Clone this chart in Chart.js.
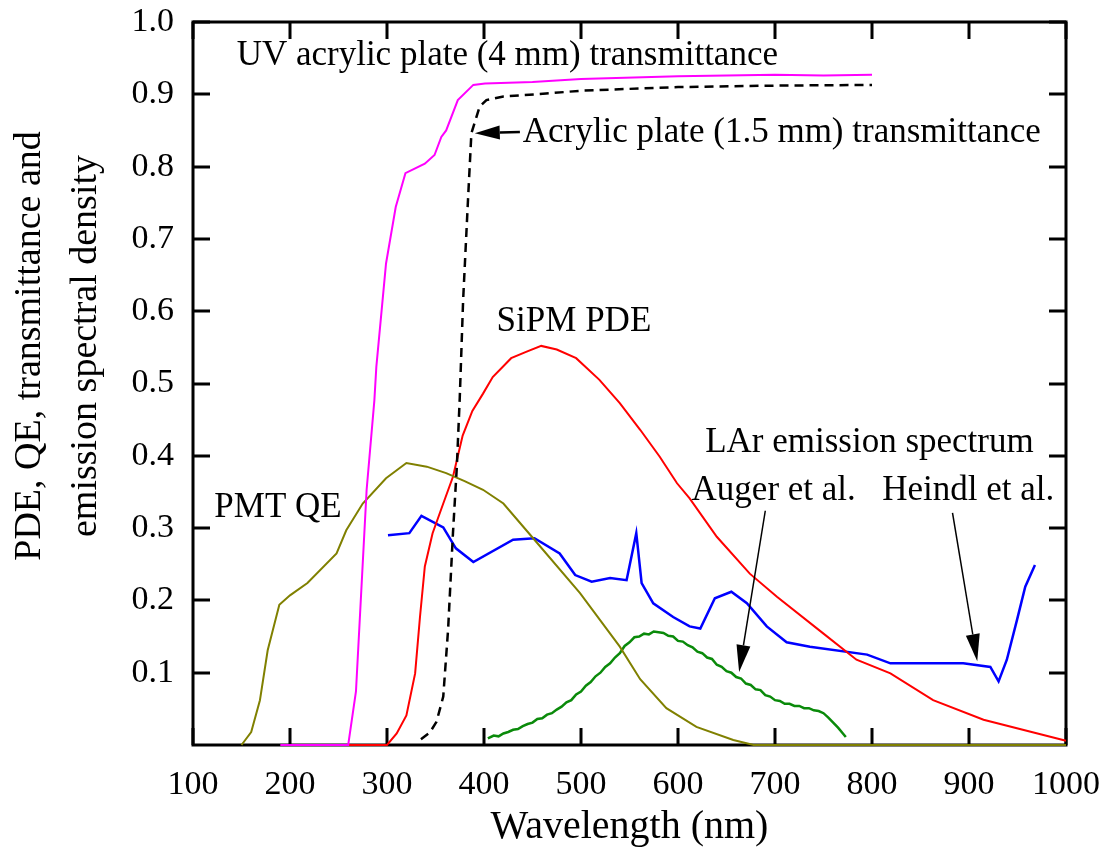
<!DOCTYPE html>
<html>
<head>
<meta charset="utf-8">
<script src="https://cdn.jsdelivr.net/npm/chart.js@4.4.1/dist/chart.umd.min.js"></script>
<style>
  html, body { margin: 0; padding: 0; background: #fff; }
  #wrap { width: 1109px; height: 851px; }
</style>
</head>
<body>
<div id="wrap"><canvas id="c" width="1109" height="851"></canvas></div>
<script>
// wavelength (nm) / value pairs
var uvAcrylicX = [190, 260, 268, 279, 287, 289, 299, 309, 319, 339, 349, 356, 361, 373, 389, 401, 450, 500, 600, 700, 750, 800];
var uvAcrylicY = [0, 0, 0.074, 0.353, 0.477, 0.523, 0.666, 0.744, 0.791, 0.804, 0.816, 0.841, 0.850, 0.892, 0.913, 0.915, 0.917, 0.921, 0.925, 0.927, 0.926, 0.927];

var acrylicX = [335, 344, 351, 358, 363, 368, 372, 375, 378.5, 383.5, 387, 395.5, 402.5, 420, 464, 500, 600, 700, 800];
var acrylicY = [0.008, 0.017, 0.032, 0.067, 0.16, 0.293, 0.385, 0.48, 0.616, 0.754, 0.846, 0.883, 0.892, 0.897, 0.901, 0.905, 0.910, 0.912, 0.913];

var sipmX = [260, 300, 310, 320, 329, 334, 339, 347, 358, 368, 378, 388, 399, 409, 428, 444, 459, 475, 495, 519, 540, 561, 581, 599, 612, 640, 674, 702, 750, 784, 819, 863, 915, 1000];
var sipmY = [0, 0, 0.016, 0.041, 0.099, 0.177, 0.247, 0.293, 0.334, 0.371, 0.428, 0.462, 0.486, 0.509, 0.535, 0.544, 0.552, 0.547, 0.535, 0.505, 0.473, 0.436, 0.399, 0.362, 0.341, 0.288, 0.237, 0.205, 0.154, 0.118, 0.099, 0.062, 0.035, 0.006];

var pmtX = [150, 160, 169, 177, 189, 200, 218, 248, 258, 275, 299, 320, 341, 361, 380, 399, 420, 450, 499, 540, 561, 588, 619, 657, 678, 1000];
var pmtY = [0, 0.018, 0.062, 0.131, 0.194, 0.207, 0.224, 0.265, 0.297, 0.334, 0.369, 0.390, 0.385, 0.376, 0.365, 0.353, 0.334, 0.287, 0.210, 0.136, 0.091, 0.051, 0.025, 0.007, 0, 0];

var heindlX = [301, 323, 335.5, 358, 371, 389, 430, 452, 478, 494, 511, 530, 547, 557, 562.5, 574.5, 595, 612, 623, 638, 655, 671, 691.5, 712, 736, 795, 819, 894, 922, 930.5, 939, 949.5, 958, 968];
var heindlY = [0.290, 0.293, 0.317, 0.301, 0.272, 0.253, 0.284, 0.286, 0.265, 0.235, 0.226, 0.231, 0.228, 0.293, 0.224, 0.196, 0.177, 0.164, 0.161, 0.203, 0.212, 0.196, 0.164, 0.142, 0.136, 0.125, 0.113, 0.113, 0.108, 0.088, 0.118, 0.173, 0.219, 0.249];

var augerX = [404, 410, 415, 420, 425, 430, 435, 440, 445, 450, 455, 460, 465, 470, 475, 480, 485, 490, 495, 500, 505, 510, 515, 520, 525, 530, 535, 540, 545, 550, 555, 560, 565, 570, 575, 580, 585, 590, 595, 600, 605, 610, 615, 620, 625, 630, 635, 640, 645, 650, 655, 660, 665, 670, 675, 680, 685, 690, 695, 700, 705, 710, 715, 720, 725, 730, 735, 740, 745, 750, 755, 760, 765, 770, 773];
var augerY = [0.009, 0.013, 0.012, 0.016, 0.018, 0.021, 0.022, 0.026, 0.029, 0.031, 0.036, 0.037, 0.042, 0.044, 0.049, 0.053, 0.059, 0.062, 0.070, 0.074, 0.082, 0.087, 0.095, 0.100, 0.108, 0.113, 0.121, 0.127, 0.137, 0.142, 0.149, 0.150, 0.154, 0.153, 0.157, 0.156, 0.155, 0.151, 0.150, 0.144, 0.143, 0.138, 0.135, 0.129, 0.127, 0.121, 0.119, 0.111, 0.108, 0.102, 0.100, 0.094, 0.092, 0.085, 0.083, 0.077, 0.076, 0.069, 0.067, 0.062, 0.061, 0.057, 0.057, 0.054, 0.054, 0.051, 0.051, 0.048, 0.047, 0.044, 0.038, 0.031, 0.024, 0.016, 0.011];

var xTicks = [100, 200, 300, 400, 500, 600, 700, 800, 900, 1000];
var yTicks = [0.1, 0.2, 0.3, 0.4, 0.5, 0.6, 0.7, 0.8, 0.9, 1.0];

// annotation text: [text, wavelength, value] (left edge, baseline)
var labels = [
  ['UV acrylic plate (4 mm) transmittance', 145, 0.940],
  ['Acrylic plate (1.5 mm) transmittance', 440, 0.834],
  ['SiPM PDE', 413, 0.573],
  ['LAr emission spectrum', 628, 0.405],
  ['Auger et al.', 614, 0.339],
  ['Heindl et al.', 810.5, 0.339],
  ['PMT QE', 122, 0.315]
];
// arrows: [tailX, tailY, tipX, tipY]
var arrows = [
  [437, 0.848, 390.5, 0.846],
  [690, 0.324, 663, 0.101],
  [883, 0.321, 908.5, 0.116]
];

var SERIF = '"Liberation Serif", "Times New Roman", serif';

function pts(xs, ys) {
  var out = [];
  for (var i = 0; i < xs.length; i++) out.push({x: xs[i], y: ys[i]});
  return out;
}

function ds(data, color, extra) {
  var d = {
    data: data, borderColor: color, backgroundColor: color,
    borderWidth: 2, pointRadius: 0, tension: 0, fill: false, clip: false
  };
  for (var k in extra) d[k] = extra[k];
  return d;
}

var framePlugin = {
  id: 'frame',
  beforeDatasetsDraw: function(chart) {
    var ctx = chart.ctx, a = chart.chartArea;
    var xs = chart.scales.x, ys = chart.scales.y;
    ctx.save();
    ctx.strokeStyle = '#000';
    ctx.lineWidth = 3;
    ctx.lineCap = 'square';
    ctx.strokeRect(a.left, a.top, a.right - a.left, a.bottom - a.top);
    ctx.beginPath();
    var tl = 17;
    xTicks.forEach(function(v) {
      var px = Math.round(xs.getPixelForValue(v));
      ctx.moveTo(px, a.bottom); ctx.lineTo(px, a.bottom - tl);
      ctx.moveTo(px, a.top); ctx.lineTo(px, a.top + tl);
    });
    yTicks.forEach(function(v) {
      var py = Math.round(ys.getPixelForValue(v));
      ctx.moveTo(a.left, py); ctx.lineTo(a.left + tl, py);
      ctx.moveTo(a.right, py); ctx.lineTo(a.right - tl, py);
    });
    ctx.lineCap = 'butt';
    ctx.stroke();
    ctx.restore();
  },
  afterDatasetsDraw: function(chart) {
    var ctx = chart.ctx;
    var xs = chart.scales.x, ys = chart.scales.y;
    ctx.save();
    ctx.fillStyle = '#000';
    ctx.font = '35px ' + SERIF;
    ctx.textBaseline = 'alphabetic';
    ctx.textAlign = 'left';
    labels.forEach(function(l) {
      ctx.fillText(l[0], xs.getPixelForValue(l[1]), ys.getPixelForValue(l[2]));
    });
    // arrows
    ctx.strokeStyle = '#000';
    arrows.forEach(function(ar, i) {
      var x0 = xs.getPixelForValue(ar[0]), y0 = ys.getPixelForValue(ar[1]);
      var x1 = xs.getPixelForValue(ar[2]), y1 = ys.getPixelForValue(ar[3]);
      var ang = Math.atan2(y1 - y0, x1 - x0);
      var hl = i === 0 ? 25 : 27, hw = 7;
      var bx = x1 - hl * Math.cos(ang), by = y1 - hl * Math.sin(ang);
      ctx.lineWidth = i === 0 ? 2.5 : 1.5;
      ctx.beginPath();
      ctx.moveTo(x0, y0); ctx.lineTo(bx, by);
      ctx.stroke();
      ctx.beginPath();
      ctx.moveTo(x1, y1);
      ctx.lineTo(bx + hw * Math.sin(ang), by - hw * Math.cos(ang));
      ctx.lineTo(bx - hw * Math.sin(ang), by + hw * Math.cos(ang));
      ctx.closePath();
      ctx.fill();
    });
    // y axis title, two lines
    ctx.font = '38px ' + SERIF;
    ctx.textAlign = 'center';
    ctx.textBaseline = 'middle';
    ctx.translate(0, 346);
    ctx.rotate(-Math.PI / 2);
    ctx.fillText('PDE, QE, transmittance and', 0, 30);
    ctx.fillText('emission spectral density', 0, 86);
    ctx.restore();
  }
};

new Chart(document.getElementById('c'), {
  type: 'line',
  data: {
    datasets: [
      ds(pts(acrylicX, acrylicY), '#000000', {borderDash: [9, 6], borderWidth: 2.5}),
      ds(pts(uvAcrylicX, uvAcrylicY), '#ff00ff'),
      ds(pts(pmtX, pmtY), '#808000'),
      ds(pts(sipmX, sipmY), '#ff0000'),
      ds(pts(augerX, augerY), '#0a8a0a', {borderWidth: 2.5}),
      ds(pts(heindlX, heindlY), '#0000ff', {borderWidth: 2.5})
    ]
  },
  options: {
    responsive: false,
    animation: false,
    devicePixelRatio: 1,
    layout: { padding: { top: 22, right: 43, left: 0, bottom: 0 } },
    plugins: { legend: { display: false }, tooltip: { enabled: false } },
    scales: {
      x: {
        type: 'linear', min: 100, max: 1000,
        grid: { display: false, drawTicks: false },
        border: { display: false },
        ticks: {
          stepSize: 100, padding: 20, color: '#000', maxRotation: 0,
          font: { family: SERIF, size: 34 },
          callback: function(v) { return String(v); }
        },
        title: {
          display: true, text: 'Wavelength (nm)', color: '#000',
          font: { family: SERIF, size: 40 }, padding: { top: 0, bottom: 0 }
        },
        afterFit: function(s) {
          s.height = 106;
          s.paddingLeft = 0; s.paddingRight = 0;
        }
      },
      y: {
        type: 'linear', min: 0, max: 1,
        grid: { display: false, drawTicks: false },
        border: { display: false },
        ticks: {
          stepSize: 0.1, padding: 19, color: '#000',
          font: { family: SERIF, size: 34 },
          callback: function(v) { return Math.abs(v) < 1e-9 ? '' : v.toFixed(1); }
        },
        afterFit: function(s) {
          s.width = 193;
          s.paddingTop = 0; s.paddingBottom = 0;
        }
      }
    }
  },
  plugins: [framePlugin]
});
</script>
</body>
</html>
